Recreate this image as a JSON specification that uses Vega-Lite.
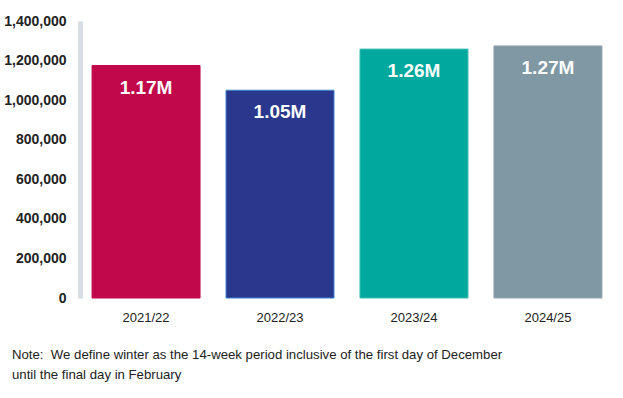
{
  "$schema": "https://vega.github.io/schema/vega-lite/v6.json",
  "autosize": {"type": "none"},
  "padding": {"left": 80, "top": 21, "right": 9, "bottom": 100},
  "width": 534,
  "height": 277,
  "background": "white",
  "data": {"values": [
    {"season": "2021/22", "value": 1175000, "label": "1.17M"},
    {"season": "2022/23", "value": 1050000, "label": "1.05M"},
    {"season": "2023/24", "value": 1258000, "label": "1.26M"},
    {"season": "2024/25", "value": 1274000, "label": "1.27M"}
  ]},
  "title": {
    "text": ["Note:\u00a0 We define winter as the 14-week period inclusive of the first day of December", "until the final day in February"],
    "orient": "bottom",
    "anchor": "start",
    "frame": "group",
    "dx": -68,
    "offset": 25,
    "font": "Liberation Sans",
    "fontSize": 13.2,
    "fontWeight": "normal",
    "color": "#222222",
    "lineHeight": 20
  },
  "config": {
    "view": {"stroke": null},
    "font": "Liberation Sans"
  },
  "encoding": {
    "x": {
      "field": "season", "type": "nominal", "sort": null,
      "scale": {"paddingInner": 0.194, "paddingOuter": 0.09},
      "axis": {"title": null, "domain": false, "ticks": false, "labelAngle": 0, "labelPadding": 13, "labelFontSize": 13, "labelColor": "#222222", "labelFont": "Liberation Sans"}
    },
    "y": {
      "field": "value", "type": "quantitative",
      "scale": {"domain": [0, 1400000]},
      "axis": {"title": null, "values": [0, 200000, 400000, 600000, 800000, 1000000, 1200000, 1400000], "format": ",d", "grid": false, "ticks": false, "tickSize": 0, "labelPadding": 14, "domainColor": "#D8DDE1", "domainWidth": 5, "labelFontSize": 14, "labelFontWeight": "bold", "labelColor": "#222222", "labelFont": "Liberation Sans"}
    }
  },
  "layer": [
    {
      "mark": {"type": "bar", "strokeWidth": 1},
      "encoding": {
        "color": {"field": "season", "type": "nominal", "legend": null,
          "scale": {"domain": ["2021/22", "2022/23", "2023/24", "2024/25"], "range": ["#C0084A", "#29388C", "#00A89D", "#8098A4"]}},
        "stroke": {"field": "season", "type": "nominal", "legend": null,
          "scale": {"domain": ["2021/22", "2022/23", "2023/24", "2024/25"], "range": ["#C0084A", "#3F7FCC", "#3FBFB5", "#8FA6B2"]}}
      }
    },
    {
      "mark": {"type": "text", "baseline": "middle", "dy": 22, "color": "white", "fontSize": 19, "fontWeight": "bold", "font": "Liberation Sans"},
      "encoding": {"text": {"field": "label"}}
    }
  ]
}
